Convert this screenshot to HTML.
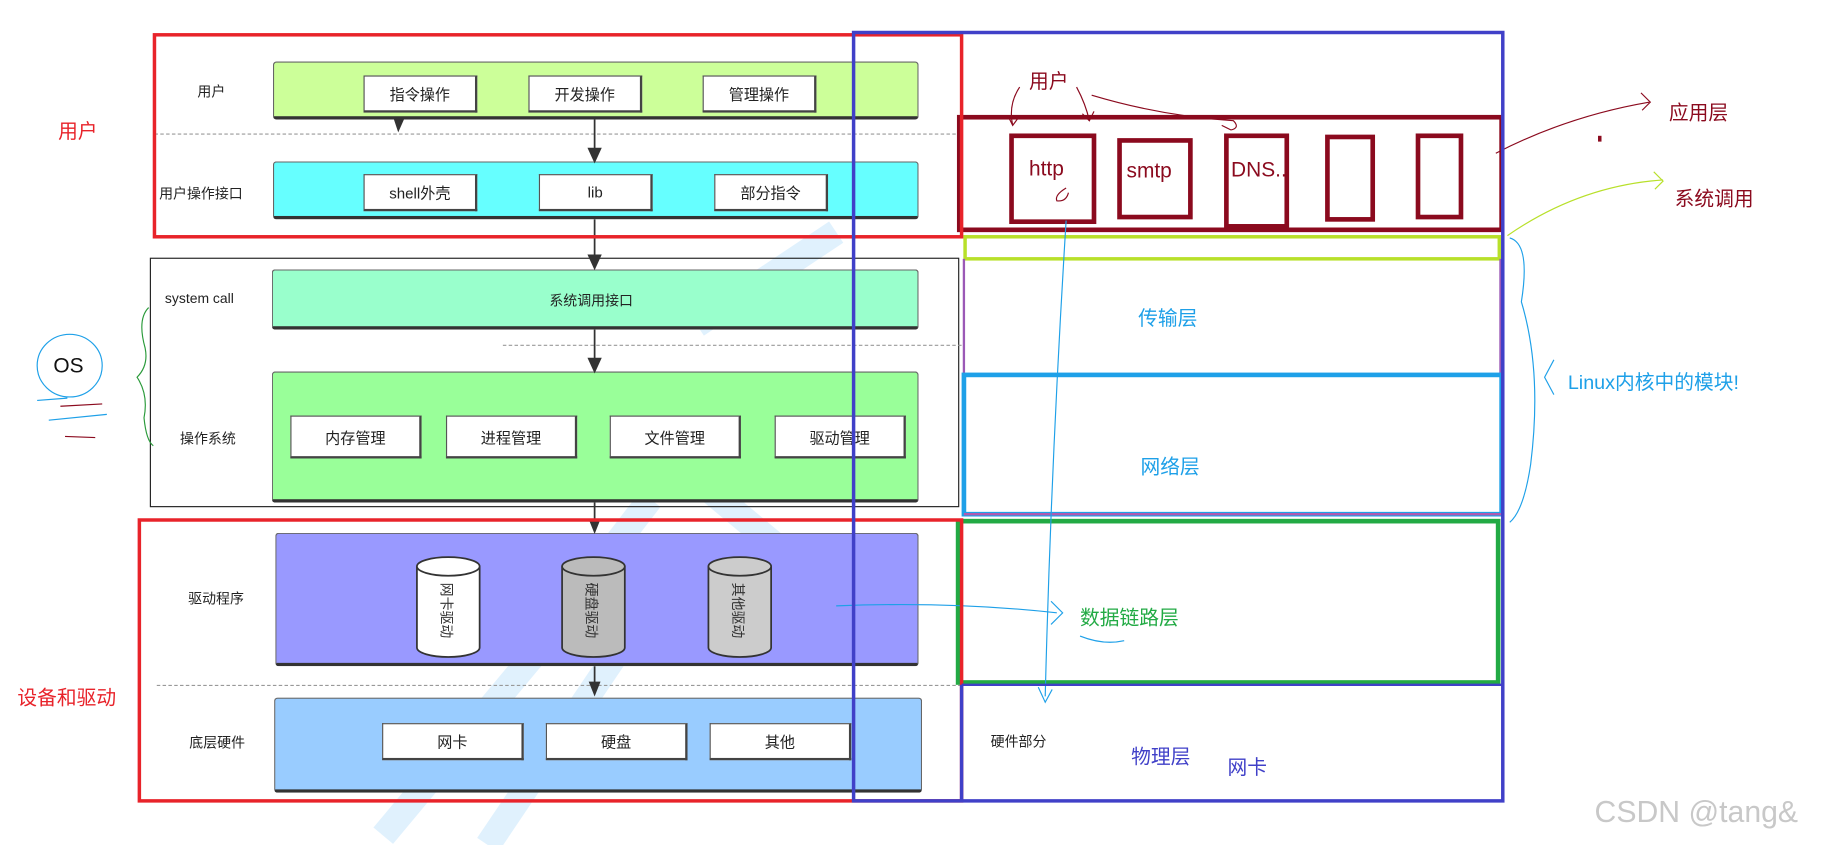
<!DOCTYPE html>
<html><head><meta charset="utf-8"><style>
html,body{margin:0;padding:0;background:#fff;overflow:hidden;width:1821px;height:845px}
#s{position:absolute;left:0;top:0;width:1568px;height:728px;transform-origin:0 0;transform:scale(1.16135,1.1607);font-family:"Liberation Sans","Noto Sans CJK SC",sans-serif}
.a{position:absolute;box-sizing:border-box}
.bar{position:absolute;box-sizing:border-box;border:1px solid #666;border-bottom:3px solid #333;border-radius:3px}
.btn{position:absolute;box-sizing:border-box;background:#fff;border:1px solid #555;border-right:2px solid #444;border-bottom:2px solid #444;font-size:13px;display:flex;align-items:center;justify-content:center;color:#222}
.t{position:absolute;white-space:nowrap;font-size:12px;color:#222}
.hd{position:absolute;border-top:1px dashed #999;height:0}
</style></head><body><div id="s">
<svg class="a" style="left:0;top:0" width="1568" height="728">
<g fill="none" stroke="#d8eefc" stroke-width="22" opacity="0.8">
<path d="M330 720 L480 540 M420 728 L560 520 M600 280 L720 200 M560 380 L680 480 M460 560 L560 430"/>
</g>
</svg>
<div class="bar" style="left:235px;top:53px;width:556px;height:50px;background:#ccff99"></div>
<div class="btn" style="left:313px;top:65px;width:98px;height:32px">指令操作</div>
<div class="btn" style="left:455px;top:65px;width:98px;height:32px">开发操作</div>
<div class="btn" style="left:605px;top:65px;width:98px;height:32px">管理操作</div>
<div class="hd" style="left:133px;top:115px;width:695px"></div>
<div class="bar" style="left:235px;top:139px;width:556px;height:50px;background:#66ffff"></div>
<div class="btn" style="left:313px;top:150px;width:98px;height:32px">shell外壳</div>
<div class="btn" style="left:464px;top:150px;width:98px;height:32px">lib</div>
<div class="btn" style="left:615px;top:150px;width:98px;height:32px">部分指令</div>
<div class="t" style="left:170px;top:70px">用户</div>
<div class="t" style="left:137px;top:158px">用户操作接口</div>
<div class="a" style="left:129px;top:222px;width:697px;height:215px;border:1px solid #222"></div>
<div class="bar" style="left:234px;top:232px;width:557px;height:52px;background:#99ffcc"></div>
<div class="t" style="left:473px;top:250px">系统调用接口</div>
<div class="t" style="left:142px;top:250px">system call</div>
<div class="hd" style="left:433px;top:297px;width:395px"></div>
<div class="bar" style="left:234px;top:320px;width:557px;height:113px;background:#99ff99"></div>
<div class="btn" style="left:250px;top:358px;width:113px;height:37px">内存管理</div>
<div class="btn" style="left:384px;top:358px;width:113px;height:37px">进程管理</div>
<div class="btn" style="left:525px;top:358px;width:113px;height:37px">文件管理</div>
<div class="btn" style="left:667px;top:358px;width:113px;height:37px">驱动管理</div>
<div class="t" style="left:155px;top:369px">操作系统</div>
<div class="bar" style="left:237px;top:459px;width:554px;height:115px;background:#9999ff"></div>
<div class="t" style="left:162px;top:507px">驱动程序</div>
<div class="hd" style="left:135px;top:590px;width:693px"></div>
<div class="bar" style="left:236px;top:601px;width:558px;height:82px;background:#99ccff"></div>
<div class="btn" style="left:329px;top:623px;width:122px;height:32px">网卡</div>
<div class="btn" style="left:470px;top:623px;width:122px;height:32px">硬盘</div>
<div class="btn" style="left:611px;top:623px;width:122px;height:32px">其他</div>
<div class="t" style="left:163px;top:631px">底层硬件</div>
<svg class="a" style="left:0;top:0" width="1568" height="728">
<g stroke="#333" stroke-width="1.5" fill="#333">
<line x1="512" y1="103" x2="512" y2="130"/><path d="M507 128 L517 128 L512 139Z"/>
<line x1="512" y1="189" x2="512" y2="222"/><path d="M507 220 L517 220 L512 231Z"/>
<line x1="512" y1="284" x2="512" y2="311"/><path d="M507 309 L517 309 L512 320Z"/>
<line x1="512" y1="433" x2="512" y2="450"/><path d="M508 448 L516 448 L512 458Z"/>
<line x1="512" y1="574" x2="512" y2="590"/><path d="M508 588 L516 588 L512 598Z"/>
<path d="M340 103 L347 103 L343 112Z"/>
</g>
<g stroke="#333" stroke-width="1.5">
<g fill="#fff"><path d="M359 488 L359 558 A27 8 0 0 0 413 558 L413 488"/><ellipse cx="386" cy="488" rx="27" ry="8"/></g>
<g fill="#bbb"><path d="M484 488 L484 558 A27 8 0 0 0 538 558 L538 488"/><ellipse cx="511" cy="488" rx="27" ry="8"/></g>
<g fill="#ccc"><path d="M610 488 L610 558 A27 8 0 0 0 664 558 L664 488"/><ellipse cx="637" cy="488" rx="27" ry="8"/></g>
</g>
<g font-size="12" fill="#333" font-family="Liberation Sans,Noto Sans CJK SC,sans-serif">
<text transform="translate(380,502) rotate(90)">网卡驱动</text>
<text transform="translate(505,502) rotate(90)">硬盘驱动</text>
<text transform="translate(631,502) rotate(90)">其他驱动</text>
</g>
<rect x="826" y="101" width="467" height="97" fill="none" stroke="#8b0a1e" stroke-width="4"/>
<g fill="none" stroke="#8b0a1e" stroke-width="4">
<rect x="871" y="117" width="71" height="74"/><rect x="964" y="121" width="61" height="66"/>
<rect x="1056" y="117" width="52" height="78"/><rect x="1143" y="118" width="39" height="71"/><rect x="1221" y="117" width="37" height="70"/>
</g>
<g fill="none" stroke="#8b0a1e" stroke-width="1">
<path d="M878 75 Q868 90 872 108 M868 100 L872 108 L878 100"/>
<path d="M927 75 Q935 90 938 104 M932 98 L938 104 L942 96"/>
<path d="M940 82 Q1000 100 1062 104 Q1068 110 1060 112 M1052 108 L1060 112"/>
<path d="M1288 132 Q1350 100 1420 88 M1413 80 L1421 88 L1414 95"/>
<path d="M918 162 Q908 168 910 173 Q918 174 920 166"/>
</g>
<path d="M1298 203 Q1360 160 1432 155 M1424 148 L1432 156 L1425 163" fill="none" stroke="#b8e02a" stroke-width="1"/>
<rect x="831" y="204" width="460" height="19" fill="none" stroke="#b8e02a" stroke-width="3"/>
<line x1="830" y1="223" x2="830" y2="323" stroke="#9b59b6" stroke-width="2"/>
<line x1="1292" y1="223" x2="1292" y2="323" stroke="#9b59b6" stroke-width="2"/>
<rect x="830" y="323" width="463" height="120" fill="none" stroke="#1ea0e8" stroke-width="4"/>
<line x1="830" y1="443" x2="1293" y2="443" stroke="#b05ab0" stroke-width="2"/>
<rect x="825" y="449" width="465" height="139" fill="none" stroke="#22aa44" stroke-width="4"/>
<path d="M918 190 Q905 400 900 600 M894 592 L900 605 L906 594" fill="none" stroke="#1ea0e8" stroke-width="1"/>
<path d="M720 522 Q820 518 910 528 M905 518 L915 528 L905 538 M930 548 Q950 556 968 552" fill="none" stroke="#1ea0e8" stroke-width="1"/>
<path d="M1300 205 Q1318 210 1310 260 Q1328 320 1318 400 Q1312 440 1300 450" fill="none" stroke="#1ea0e8" stroke-width="1"/>
<path d="M1338 310 L1330 325 L1338 340" fill="none" stroke="#1ea0e8" stroke-width="1"/>
<path d="M128 265 Q118 275 125 300 Q128 315 118 325 Q128 340 124 360 Q126 380 132 384" fill="none" stroke="#2a9a3a" stroke-width="1"/>
<ellipse cx="60" cy="315" rx="28" ry="27" fill="none" stroke="#1ea0e8" stroke-width="1"/>
<path d="M32 345 L58 343 M42 362 L92 357" fill="none" stroke="#1ea0e8" stroke-width="1"/>
<path d="M52 350 L88 348 M56 376 L82 377" stroke="#8b0a1e" stroke-width="1"/>
<rect x="133" y="30" width="695" height="174" fill="none" stroke="#e8232a" stroke-width="3"/>
<rect x="120" y="448" width="708" height="242" fill="none" stroke="#e8232a" stroke-width="3"/>
<rect x="735" y="28" width="559" height="662" fill="none" stroke="#4040c8" stroke-width="3"/>
<line x1="828" y1="590" x2="828" y2="690" stroke="#4040c8" stroke-width="3"/>
<line x1="828" y1="590" x2="1294" y2="590" stroke="#4040c8" stroke-width="2"/>
<rect x="1376" y="117" width="3" height="5" fill="#8b0a1e"/>
</svg>
<div class="t" style="left:886px;top:56px;font-size:17px;color:#8b0a1e">用户</div>
<div class="t" style="left:886px;top:135px;font-size:18px;color:#8b0a1e">http</div>
<div class="t" style="left:970px;top:137px;font-size:18px;color:#8b0a1e">smtp</div>
<div class="t" style="left:1060px;top:136px;font-size:18px;color:#8b0a1e">DNS..</div>
<div class="t" style="left:1437px;top:83px;font-size:17px;color:#8b0a1e">应用层</div>
<div class="t" style="left:1442px;top:157px;font-size:17px;color:#8b0a1e">系统调用</div>
<div class="t" style="left:1350px;top:315px;font-size:17px;color:#1ea0e8">Linux内核中的模块!</div>
<div class="t" style="left:980px;top:260px;font-size:17px;color:#1ea0e8">传输层</div>
<div class="t" style="left:982px;top:388px;font-size:17px;color:#1ea0e8">网络层</div>
<div class="t" style="left:930px;top:518px;font-size:17px;color:#22aa44">数据链路层</div>
<div class="t" style="left:974px;top:638px;font-size:17px;color:#4040c8">物理层</div>
<div class="t" style="left:1057px;top:647px;font-size:17px;color:#4040c8">网卡</div>
<div class="t" style="left:853px;top:630px">硬件部分</div>
<div class="t" style="left:50px;top:99px;font-size:17px;color:#e8232a">用户</div>
<div class="t" style="left:15px;top:587px;font-size:17px;color:#e8232a">设备和驱动</div>
<div class="t" style="left:46px;top:305px;font-size:18px;color:#111">OS</div>
<div class="t" style="left:1373px;top:684px;font-size:26px;color:#c8c8c8">CSDN @tang&amp;</div>
</div></body></html>
